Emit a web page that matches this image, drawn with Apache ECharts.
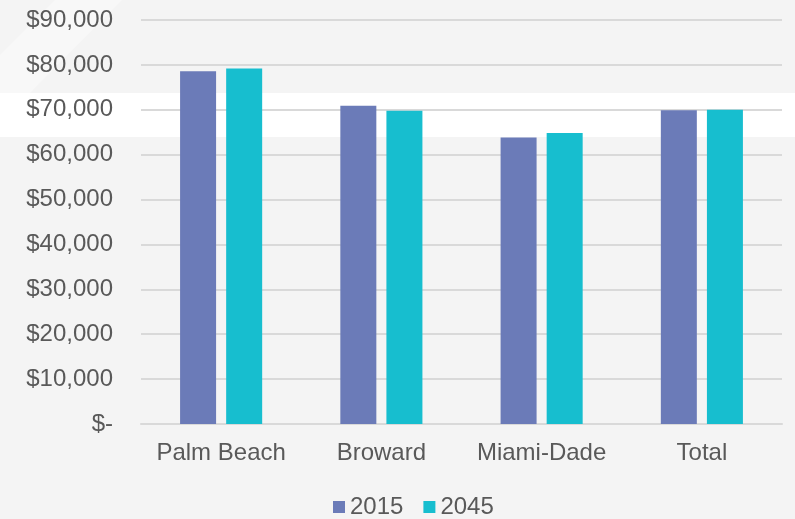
<!DOCTYPE html>
<html>
<head>
<meta charset="utf-8">
<script src="https://cdn.jsdelivr.net/npm/echarts@6/dist/echarts.min.js"></script>
<style>
  html, body { margin: 0; padding: 0; background: #f4f4f4; }
  #chart { width: 795px; height: 519px; }
</style>
</head>
<body>
<div id="chart"></div>
<script>
// Median household income by county, 2015 vs 2045
const categories = ['Palm Beach', 'Broward', 'Miami-Dade', 'Total']
const income2015 = [78600, 70900, 63800, 69900]
const income2045 = [79200, 69800, 64800, 70000]
const yTicks = { min: 0, max: 90000, interval: 10000 }

const fmtMoney = (v) => (v === 0 ? '$-' : '$' + v.toLocaleString('en-US'))

const chart = echarts.init(document.getElementById('chart'), null, { renderer: 'canvas' })

const textColor = '#595959'
const font = 'Liberation Sans, Arial, sans-serif'

chart.setOption({
  backgroundColor: '#f4f4f4',
  animation: false,
  // decorative background shapes
  graphic: [
    {
      type: 'polygon', silent: true, z: -10,
      shape: { points: [[55, 0], [122, 0], [30, 93], [0, 93], [0, 55]] },
      style: { fill: '#f8f8f8' }
    },
    {
      type: 'rect', silent: true, z: -10,
      shape: { x: 0, y: 93, width: 795, height: 44 },
      style: { fill: '#ffffff' }
    }
  ],
  grid: { left: 141, right: 13, top: 20, bottom: 95 },
  legend: {
    left: 328,
    top: 490,
    itemWidth: 12,
    itemHeight: 12,
    itemGap: 20,
    icon: 'rect',
    textStyle: { color: textColor, fontSize: 24, fontFamily: font },
    data: ['2015', '2045']
  },
  xAxis: {
    type: 'category',
    data: categories,
    axisTick: { show: false },
    axisLine: { lineStyle: { color: '#d9d9d9', width: 2 } },
    axisLabel: { color: textColor, fontSize: 24, fontFamily: font, margin: 17, interval: 0 }
  },
  yAxis: {
    type: 'value',
    min: yTicks.min,
    max: yTicks.max,
    interval: yTicks.interval,
    axisLine: { show: false },
    axisTick: { show: false },
    axisLabel: { color: textColor, fontSize: 24, fontFamily: font, margin: 28, formatter: fmtMoney },
    splitLine: { lineStyle: { color: '#d9d9d9', width: 2 } }
  },
  series: [
    {
      name: '2015', type: 'bar', data: income2015,
      barWidth: 36, barGap: '28%',
      itemStyle: { color: '#6b7bb8' }
    },
    {
      name: '2045', type: 'bar', data: income2045,
      barWidth: 36,
      itemStyle: { color: '#17becf' }
    }
  ]
})
</script>
</body>
</html>
